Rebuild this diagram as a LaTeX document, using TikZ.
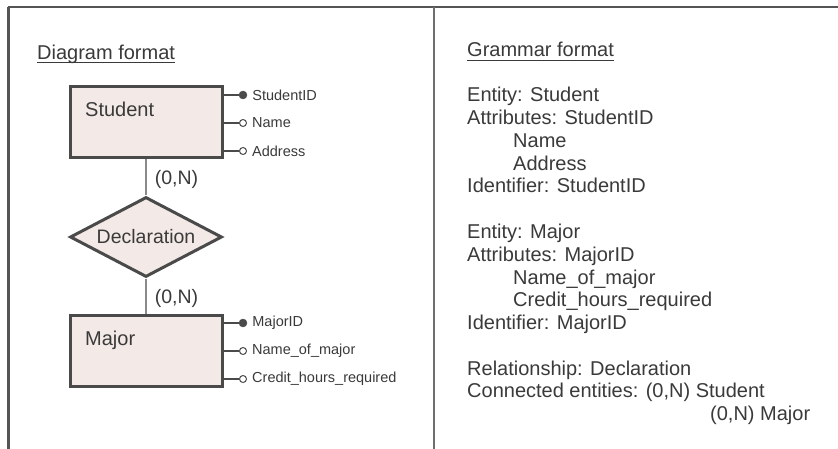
\documentclass[tikz,border=0pt]{standalone}
\usepackage{fontspec}
\setmainfont{Liberation Sans}
\usetikzlibrary{shapes.geometric}
\definecolor{ink}{HTML}{3A3A3A}
\definecolor{edge}{HTML}{4A4A4A}
\definecolor{shade}{HTML}{F3E9E6}
\definecolor{rule}{HTML}{555555}
\definecolor{link}{HTML}{8A8A8A}
\tikzset{
  txt/.style={inner sep=0pt, text=ink, font=\fontsize{20}{22.7}\selectfont, anchor=base west},
  entity/.style={draw=edge, line width=3pt, fill=shade, rectangle, minimum width=152pt, minimum height=71pt, inner sep=0pt},
  relation/.style={draw=edge, line width=3pt, fill=shade, diamond, aspect=1.9, minimum width=152pt, minimum height=80pt, inner sep=2pt, text=ink, font=\fontsize{19.5}{22}\selectfont},
  attrlabel/.style={inner sep=0pt, text=ink, font=\fontsize{14.5}{16}\selectfont, label distance=5pt},
  keydot/.style={circle, draw=edge, fill=edge, inner sep=0pt, minimum size=8pt},
  plaindot/.style={circle, draw=edge, fill=white, line width=1pt, inner sep=0pt, minimum size=7pt},
  attrline/.style={draw=edge, line width=1.3pt},
  conn/.style={draw=link, line width=1.6pt},
  card/.style={inner sep=0pt, text=ink, font=\fontsize{19.5}{22}\selectfont, anchor=west, xshift=8pt},
}
\begin{document}
\begin{tikzpicture}[x=1pt, y=-1pt]
\useasboundingbox (0,0) rectangle (838,449);
\fill[white] (0,0) rectangle (838,449);

% outer frame and panel divider
\draw[rule, line width=2.5pt] (8,7) -- (838,7);
\draw[rule, line width=3pt] (8,7) -- (8,449);
\draw[link!80!black, line width=1.2pt] (434,7) -- (434,449);

% ---- left panel: diagram ----
\node[txt] (dhead) at (37,60) {Diagram format};
\draw[ink, line width=1pt] ([yshift=-3pt]dhead.base west) -- ([yshift=-3pt]dhead.base east);

\node[entity] (student) at (146,122.5) {};
\node[txt] (studentname) at (85,117) {Student};

\node[relation] (decl) at (146,237) {Declaration};

\node[entity] (major) at (146,351) {};
\node[txt] (majorname) at (85,345) {Major};

\draw[conn] (student.south) -- node[card, yshift=-2pt] (c1) {(0,N)} (decl.north);
\draw[conn] (decl.south) -- node[card, yshift=-2pt] (c2) {(0,N)} (major.north);

% student attributes
\node[keydot, label={[attrlabel]right:StudentID}] (sid) at (243,95) {};
\node[plaindot, label={[attrlabel]right:Name}] (sname) at (243,123) {};
\node[plaindot, label={[attrlabel]right:Address}] (saddr) at (243,151) {};
\draw[attrline] (sid) -- (sid -| student.east);
\draw[attrline] (sname) -- (sname -| student.east);
\draw[attrline] (saddr) -- (saddr -| student.east);

% major attributes
\node[keydot, label={[attrlabel]right:MajorID}] (mid) at (243,323) {};
\node[plaindot, label={[attrlabel]right:Name\_of\_major}] (mname) at (243,351) {};
\node[plaindot, label={[attrlabel]right:Credit\_hours\_required}] (mcred) at (243,379) {};
\draw[attrline] (mid) -- (mid -| major.east);
\draw[attrline] (mname) -- (mname -| major.east);
\draw[attrline] (mcred) -- (mcred -| major.east);

% ---- right panel: grammar ----
\node[txt] (ghead) at (467,57) {Grammar format};
\draw[ink, line width=1pt] ([yshift=-3.5pt]ghead.base west) -- ([yshift=-3.5pt]ghead.base east);

\node[txt] (g1) at (467,102) {Entity: Student};
\node[txt] (g2) at (467,124.75) {Attributes: StudentID};
\node[txt] (g3) at (513,147.5) {Name};
\node[txt] (g4) at (513,170.25) {Address};
\node[txt] (g5) at (467,193) {Identifier: StudentID};

\node[txt] (g6) at (467,238.5) {Entity: Major};
\node[txt] (g7) at (467,261.25) {Attributes: MajorID};
\node[txt] (g8) at (513,284) {Name\_of\_major};
\node[txt] (g9) at (513,306.75) {Credit\_hours\_required};
\node[txt] (g10) at (467,329.5) {Identifier: MajorID};

\node[txt] (g11) at (467,375) {Relationship: Declaration};
\node[txt] (g12) at (467,397.75) {Connected entities: (0,N) Student};
\node[txt] (g13) at (710,420.5) {(0,N) Major};
\end{tikzpicture}
\end{document}
